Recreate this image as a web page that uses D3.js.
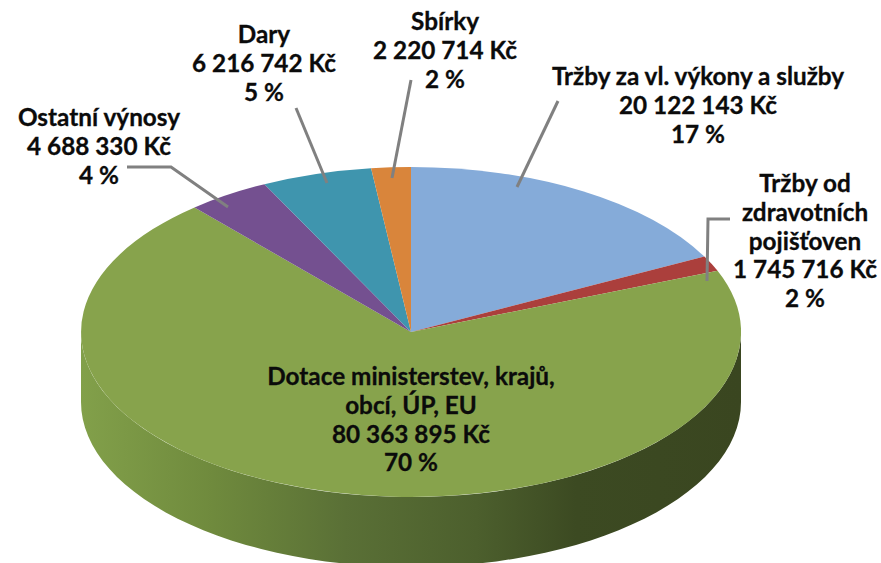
<!DOCTYPE html>
<html><head><meta charset="utf-8"><script src="https://cdn.jsdelivr.net/npm/d3@7"></script>
<style>html,body{margin:0;background:#fff}svg{display:block}text{font-family:Lato,"Open Sans",sans-serif;font-weight:700;fill:#0b0b0b;text-anchor:middle;stroke:#0b0b0b;stroke-width:.3px}</style></head><body>
<script>
const names=["Tržby za vl. výkony a služby","Tržby od zdravotních pojišťoven","Dotace ministerstev, krajů, obcí, ÚP, EU","Ostatní výnosy","Dary","Sbírky"];
const values=[20122143,1745716,80363895,4688330,6216742,2220714];
const colors=["#85abd9","#ab3f3c","#87a34c","#745090","#3f95ae","#d9853b"];
const labelLines=[["Tržby za vl. výkony a služby","20 122 143 Kč","17 %"],["Tržby od","zdravotních","pojišťoven","1 745 716 Kč","2 %"],["Dotace ministerstev, krajů,","obcí, ÚP, EU","80 363 895 Kč","70 %"],["Ostatní výnosy","4 688 330 Kč","4 %"],["Dary","6 216 742 Kč","5 %"],["Sbírky","2 220 714 Kč","2 %"]];
const labelX=[698,805,411,99,264,445];
const labelY=[85,192,385,126,43,30];
const leaderPts=[[[558,101],[517,187]],[[730,219],[708,219],[707,281]],null,[[127,167],[171,167],[228,207]],[[296,108],[327,183]],[[411,80],[392,178]]];
const W=881,H=563,cx=411,cy=332,rx=330,ry=165,depth=70,clipL=81,clipR=741;
const svg=d3.select("body").append("svg").attr("width",W).attr("height",H);
const defs=svg.append("defs");
defs.append("clipPath").attr("id","clip").append("rect").attr("x",clipL).attr("y",0).attr("width",clipR-clipL).attr("height",H);
const grad=defs.append("linearGradient").attr("id","wall");
[[0,"#82a04a"],[.2,"#6f8a3d"],[.4,"#5a7036"],[.6,"#4c5f2d"],[.75,"#3c4a22"],[1,"#3a4620"]].forEach(([o,c])=>grad.append("stop").attr("offset",o).attr("stop-color",c));
const x=d3.scaleLinear().domain([-1,1]).range([cx-rx,cx+rx]);
const y=d3.scaleLinear().domain([-1,1]).range([cy-ry,cy+ry]);
const t=d3.range(0,181,3).map(a=>a*Math.PI/180);
const wallTop=t.map(a=>[x(Math.cos(a)),y(Math.sin(a))]);
const wallBot=wallTop.map(p=>[p[0],p[1]+depth]).reverse();
const chart=svg.append("g").attr("clip-path","url(#clip)");
chart.append("path").attr("d",d3.line()(wallTop.concat(wallBot))+"Z").attr("fill","url(#wall)");
const pie=d3.pie().sort(null)(values);
const arc=d3.arc().innerRadius(0).outerRadius(1);
const g=chart.append("g").attr("transform",`translate(${cx},${cy}) scale(${rx},${ry})`);
g.selectAll("path").data(pie).join("path").attr("d",arc).attr("fill",(d,i)=>colors[i]);
svg.selectAll("path.lead").data(leaderPts.filter(Boolean)).join("path").attr("class","lead").attr("d",d=>d3.line()(d)).attr("fill","none").attr("stroke","#808080").attr("stroke-width",3);
labelLines.forEach((ls,i)=>{const T=svg.append("text").attr("font-size",24.3);ls.forEach((s,j)=>T.append("tspan").attr("x",labelX[i]).attr("y",labelY[i]+j*28.8).text(s));});
</script></body></html>
